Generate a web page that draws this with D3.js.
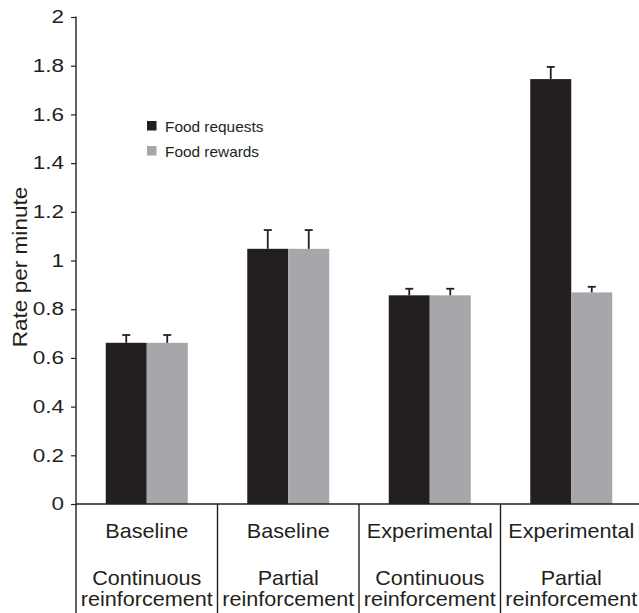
<!DOCTYPE html>
<html>
<head>
<meta charset="utf-8">
<script src="https://cdn.jsdelivr.net/npm/d3@7"></script>
<style>
  html, body { margin: 0; padding: 0; background: #fff; }
  svg { display: block; }
  text { font-family: "Liberation Sans", Arial, Helvetica, sans-serif; fill: #231f20; }
</style>
</head>
<body>
<svg id="chart" width="639" height="613"></svg>
<script>
// Phase of the study (first label row) and reinforcement schedule (second row)
const phases = ["Baseline", "Baseline", "Experimental", "Experimental"];
const schedules = [
  ["Continuous", "reinforcement"],
  ["Partial", "reinforcement"],
  ["Continuous", "reinforcement"],
  ["Partial", "reinforcement"]
];
const seriesNames = ["Food requests", "Food rewards"];
const seriesColors = ["#231f20", "#a6a7ab"];

// Mean rate per minute and standard error for each condition
const requests = [0.662, 1.048, 0.857, 1.745];
const rewards = [0.662, 1.048, 0.857, 0.869];
const requestErr = [0.032, 0.077, 0.027, 0.05];
const rewardErr = [0.032, 0.077, 0.027, 0.023];

const yTicks = [0, 0.2, 0.4, 0.6, 0.8, 1, 1.2, 1.4, 1.6, 1.8, 2];

const W = 639, H = 613;
const plotLeft = 76, plotTop = 17, zeroY = 504;
const ink = "#231f20";

const svg = d3.select("#chart");

const conditionIdx = d3.range(phases.length);
const x = d3.scaleBand().domain(conditionIdx).range([plotLeft, plotLeft + 141.5 * 4]).padding(0);
const xs = d3.scaleBand().domain([0, 1]).range([0, x.bandwidth()])
  .paddingInner(0).paddingOuter(0.726);
const y = d3.scaleLinear().domain([0, 2]).range([zeroY, plotTop]);

const rows = conditionIdx.map(i => [
  { cond: i, s: 0, v: requests[i], e: requestErr[i] },
  { cond: i, s: 1, v: rewards[i], e: rewardErr[i] }
]).flat();

// Bars
svg.append("g").selectAll("rect").data(rows).join("rect")
  .attr("x", d => x(d.cond) + xs(d.s))
  .attr("y", d => y(d.v))
  .attr("width", xs.bandwidth())
  .attr("height", d => y(0) - y(d.v))
  .attr("fill", d => seriesColors[d.s]);

// Error bars (upper half only)
const eb = svg.append("g").attr("stroke", ink).attr("stroke-width", 1.8).attr("fill", "none");
rows.forEach(d => {
  const cx = x(d.cond) + xs(d.s) + xs.bandwidth() / 2;
  eb.append("line").attr("x1", cx).attr("x2", cx).attr("y1", y(d.v)).attr("y2", y(d.v + d.e));
  eb.append("line").attr("x1", cx - 4).attr("x2", cx + 4).attr("y1", y(d.v + d.e)).attr("y2", y(d.v + d.e));
});

// Y axis
const yAxis = svg.append("g").attr("transform", `translate(${plotLeft},0)`)
  .call(d3.axisLeft(y).tickValues(yTicks).tickSize(5).tickPadding(7).tickFormat(d3.format("~g")));
yAxis.select(".domain").remove();
yAxis.selectAll(".tick line").attr("stroke", ink).attr("stroke-width", 1.2);
yAxis.selectAll(".tick text")
  .attr("x", 0)
  .attr("transform", "translate(-12,0) scale(1.25,1)")
  .style("font-family", '"Liberation Sans", Arial, sans-serif')
  .style("font-size", "18px").attr("fill", ink);

// Axis lines: vertical axis runs into the label table below the baseline
svg.append("line").attr("x1", plotLeft).attr("x2", plotLeft).attr("y1", plotTop - 0.5).attr("y2", H)
  .attr("stroke", ink).attr("stroke-width", 1.4);
svg.append("line").attr("x1", plotLeft).attr("x2", W).attr("y1", zeroY).attr("y2", zeroY)
  .attr("stroke", ink).attr("stroke-width", 1.4);

// Category separators in the label table
conditionIdx.slice(1).forEach(i => {
  svg.append("line").attr("x1", x(i)).attr("x2", x(i)).attr("y1", zeroY).attr("y2", H)
    .attr("stroke", ink).attr("stroke-width", 1.4);
});

// Category labels
const lab = svg.append("g").attr("text-anchor", "middle").style("font-size", "20px");
function wideText(g, px, py, sx, str) {
  g.append("text").attr("transform", `translate(${px},${py}) scale(${sx},1)`).text(str);
}
conditionIdx.forEach(i => {
  const cx = x(i) + x.bandwidth() / 2;
  wideText(lab, cx, 538, 1.08, phases[i]);
  wideText(lab, cx, 585, 1.08, schedules[i][0]);
  wideText(lab, cx, 606, 1.08, schedules[i][1]);
});

// Y axis title
svg.append("text")
  .attr("transform", "translate(27,267) rotate(-90) scale(1.13,1)")
  .attr("text-anchor", "middle")
  .style("font-size", "20px")
  .text("Rate per minute");

// Legend
const legend = svg.append("g").attr("transform", "translate(147,121)");
seriesNames.forEach((name, i) => {
  const g = legend.append("g").attr("transform", `translate(0,${i * 25})`);
  g.append("rect").attr("width", 9.5).attr("height", 9.5).attr("fill", seriesColors[i]);
  g.append("text").attr("transform", "translate(18,10.5) scale(1.1,1)")
    .style("font-size", "14px").text(name);
});
</script>
</body>
</html>
